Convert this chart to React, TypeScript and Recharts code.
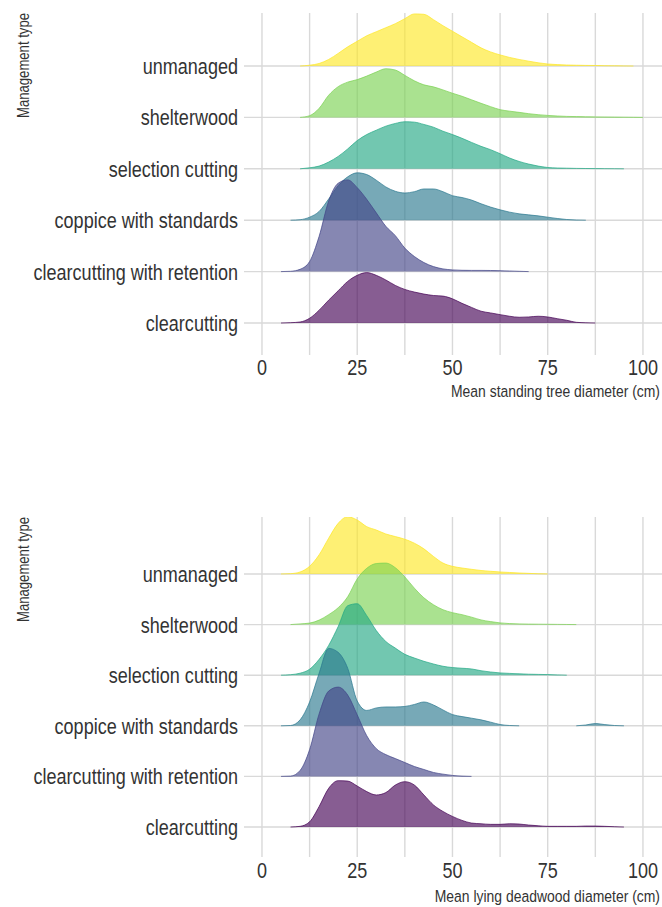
import { Area, CartesianGrid, ComposedChart, XAxis, YAxis } from "recharts";

// ridge rows, bottom to top
const categories = [
  "clearcutting",
  "clearcutting with retention",
  "coppice with standards",
  "selection cutting",
  "shelterwood",
  "unmanaged",
];
const colors = ["#440154", "#414487", "#2A788E", "#22A884", "#7AD151", "#FDE725"];

// one row of the ridgeline = ROW density units
const ROW = 51;

const xs = [
  5, 7.5, 10, 12.5, 15, 17.5, 20, 22.5, 25, 27.5, 30, 32.5, 35, 37.5, 40, 42.5, 45, 47.5, 50, 52.5,
  55, 57.5, 60, 62.5, 65, 67.5, 70, 72.5, 75, 77.5, 80, 82.5, 85, 87.5, 90, 92.5, 95, 97.5, 100,
];
const xTicks = [0, 12.5, 25, 37.5, 50, 62.5, 75, 87.5, 100];

// mean standing tree diameter densities
const standingUnmanaged = [null, null, 0, 0.8, 2.5, 6.5, 12.5, 19, 24.5, 30, 34, 38, 42, 47, 51.7, 51.3, 46, 40, 34.5, 29, 23.5, 18, 14, 11, 8.5, 6.5, 4.8, 3.2, 2, 1.4, 1, 0.8, 0.6, 0.5, 0.3, 0.2, 0.1, 0, null];
const standingShelterwood = [null, null, 0, 1.7, 9, 22, 30.5, 35, 37.5, 41, 45, 48.3, 47, 41.7, 36.3, 32.3, 30.3, 27.3, 24, 21, 17.5, 14, 10.7, 7.7, 6.2, 5, 3.7, 2.7, 2, 1.4, 1, 0.8, 0.6, 0.5, 0.4, 0.3, 0.2, 0.1, 0];
const standingSelection = [null, null, 0, 1, 2.7, 6.7, 12.3, 19.7, 28, 34, 38.3, 42.3, 45, 46.7, 46.3, 44, 41.3, 37.3, 34, 30.3, 26.2, 22.3, 19, 15, 10.7, 7.3, 4.7, 2.7, 1.3, 0.8, 0.6, 0.4, 0.3, 0.2, 0.15, 0.1, 0, null, null];
const standingCoppice = [null, 0, 0.5, 3, 8.7, 21, 34.3, 43, 47, 45.3, 39.7, 33, 28.7, 27, 28.3, 31, 31, 28.3, 24.3, 22.5, 20, 16.3, 13, 10.3, 8, 6.3, 5.3, 4.3, 3, 1.7, 0.7, 0.2, 0, null, null, null, null, null, null];
const standingRetention = [0, 0.3, 2.3, 10, 35, 70, 87.7, 91, 83.3, 71.7, 58.3, 45, 35.7, 23.3, 15, 9, 5, 2.7, 1.7, 1.3, 1.2, 1.2, 1.1, 0.9, 0.6, 0.3, 0, null, null, null, null, null, null, null, null, null, null, null, null];
const standingClear = [0, 0.3, 1, 4.7, 12.7, 22.7, 32, 41.3, 47.3, 50, 47.3, 42.7, 37.3, 33.3, 30.7, 28.7, 27.3, 26.7, 24, 19.5, 15.5, 11.7, 10, 8.3, 6.7, 5.7, 6, 6.7, 6, 4.3, 2.7, 0.7, 0.2, 0, null, null, null, null, null];

// mean lying deadwood diameter densities
const lyingUnmanaged = [0, 0.3, 2, 7.7, 19.3, 36, 51, 57.7, 54.3, 47.7, 44.3, 40.3, 37.7, 35, 31, 25.3, 17.7, 11, 7.7, 6, 4.7, 3.5, 2.7, 2, 1.5, 1, 0.6, 0.2, 0, null, null, null, null, null, null, null, null, null, null];
const lyingShelterwood = [null, 0, 0.7, 1.5, 4.5, 10, 17, 28, 46, 56.7, 61.5, 62, 57.3, 48, 36.7, 27, 20, 15, 12, 10, 7.5, 4.7, 3, 1.7, 1, 0.7, 0.5, 0.4, 0.3, 0.2, 0.1, 0, null, null, null, null, null, null, null];
const lyingSelection = [0, 0.5, 2, 6, 16, 30, 49, 70, 72, 60, 45, 34, 27.3, 21, 17.3, 14, 11.3, 9, 7.7, 7, 6.3, 4.5, 3.2, 2.3, 1.8, 1.4, 1, 0.8, 0.6, 0.3, 0, null, null, null, null, null, null, null, null];
const lyingCoppice = [0, 0.3, 6, 24, 53, 78, 74, 58, 25, 15.5, 18, 19, 19, 19.5, 21.5, 24, 21, 16, 11.3, 9.3, 7.7, 6, 3.7, 1.3, 0.3, 0, null, null, null, null, null, 0, 0.8, 2.3, 1.2, 0.3, 0, null, null];
const lyingRetention = [0, 0.3, 6, 27, 63, 86, 90, 82, 62, 41, 28, 22, 18, 14, 10, 7, 4, 2.3, 1, 0.3, 0, null, null, null, null, null, null, null, null, null, null, null, null, null, null, null, null, null, null];
const lyingClear = [null, 0, 0.7, 5.3, 20.7, 39, 46.7, 46.3, 41.3, 35.7, 32.3, 34.7, 42.3, 45.7, 42.3, 32.3, 22.3, 15.7, 10.7, 6.7, 4, 3.3, 2.7, 2.7, 3.3, 3, 2, 1.3, 0.7, 0.7, 0.7, 0.7, 1, 1, 0.7, 0.3, 0, null, null];

const standing = [standingClear, standingRetention, standingCoppice, standingSelection, standingShelterwood, standingUnmanaged];
const lying = [lyingClear, lyingRetention, lyingCoppice, lyingSelection, lyingShelterwood, lyingUnmanaged];

const FONT = '"Liberation Sans", Arial, Helvetica, sans-serif';
const NARROW = 0.82;
const INK = "#333333";

function toRows(series: (number | null)[][]) {
  return xs.map((x, i) => {
    const row: Record<string, number | null> = { x };
    series.forEach((s, k) => {
      const d = s[i];
      row[categories[k]] = d == null ? null : k * ROW + d;
    });
    return row;
  });
}

function CatTick({ x, y, payload }: any) {
  const name = categories[Math.round(payload.value / ROW)];
  return (
    <text
      transform={`translate(${x},${y}) scale(${NARROW},1)`}
      textAnchor="end"
      dy="0.36em"
      fontSize={22}
      fontFamily={FONT}
      fill={INK}
    >
      {name}
    </text>
  );
}

function NumTick({ x, y, payload, gap }: any) {
  if (payload.value % 25 !== 0) return <g />;
  return (
    <text
      transform={`translate(${x},${y + gap}) scale(${NARROW},1)`}
      textAnchor="middle"
      fontSize={22}
      fontFamily={FONT}
      fill={INK}
    >
      {payload.value}
    </text>
  );
}

function XTitle({ viewBox, text, gap }: any) {
  return (
    <text
      transform={`translate(${viewBox.x + viewBox.width - 2},${viewBox.y + gap}) scale(${NARROW},1)`}
      textAnchor="end"
      fontSize={17}
      fontFamily={FONT}
      fill={INK}
    >
      {text}
    </text>
  );
}

function YTitle({ viewBox }: any) {
  return (
    <text
      transform={`translate(29,${viewBox.y}) rotate(-90) scale(${NARROW},1)`}
      textAnchor="end"
      fontSize={16}
      fontFamily={FONT}
      fill={INK}
    >
      Management type
    </text>
  );
}

function Ridges({
  series,
  title,
  top,
  height,
  plotTop,
  axisHeight,
  yDomain,
  tickGap,
  titleGap,
}: {
  series: (number | null)[][];
  title: string;
  top: number;
  height: number;
  plotTop: number;
  axisHeight: number;
  yDomain: [number, number];
  tickGap: number;
  titleGap: number;
}) {
  const rows = toRows(series);
  // upper ridges first so lower ones overlap them
  const order = categories.map((_, k) => k).reverse();
  return (
    <div style={{ position: "absolute", left: 0, top }}>
      <ComposedChart width={662} height={height} data={rows} margin={{ top: plotTop, right: 0, bottom: 0, left: 0 }}>
        <CartesianGrid stroke="#d9d9d9" strokeWidth={1.4} syncWithTicks />
        <XAxis
          type="number"
          dataKey="x"
          domain={[-4.72, 105]}
          ticks={xTicks}
          interval={0}
          allowDataOverflow
          height={axisHeight}
          axisLine={false}
          tickLine={false}
          tickSize={0}
          tickMargin={0}
          tick={(p: any) => <NumTick {...p} gap={tickGap} />}
          label={(p: any) => <XTitle {...p} text={title} gap={titleGap} />}
        />
        <YAxis
          type="number"
          domain={yDomain}
          ticks={categories.map((_, k) => k * ROW)}
          interval={0}
          allowDataOverflow
          width={244}
          axisLine={false}
          tickLine={false}
          tickSize={0}
          tickMargin={6}
          tick={CatTick}
          label={(p: any) => <YTitle {...p} />}
        />
        {order.map((k) => (
          <Area
            key={categories[k]}
            dataKey={categories[k]}
            type="monotone"
            baseValue={k * ROW}
            fill={colors[k]}
            fillOpacity={0.64}
            stroke={colors[k]}
            strokeOpacity={0.7}
            strokeWidth={1}
            dot={false}
            activeDot={false}
            isAnimationActive={false}
          />
        ))}
      </ComposedChart>
    </div>
  );
}

export default function App() {
  return (
    <div style={{ position: "absolute", left: 0, top: 0, width: 662, height: 907, background: "#fff", overflow: "hidden" }}>
      <Ridges
        series={standing}
        title="Mean standing tree diameter (cm)"
        top={0}
        height={410}
        plotTop={13}
        axisHeight={55}
        yDomain={[-31.75, 307.6]}
        tickGap={20}
        titleGap={42}
      />
      <Ridges
        series={lying}
        title="Mean lying deadwood diameter (cm)"
        top={480}
        height={427}
        plotTop={37}
        axisHeight={50}
        yDomain={[-30.2, 312.4]}
        tickGap={21}
        titleGap={45}
      />
    </div>
  );
}
